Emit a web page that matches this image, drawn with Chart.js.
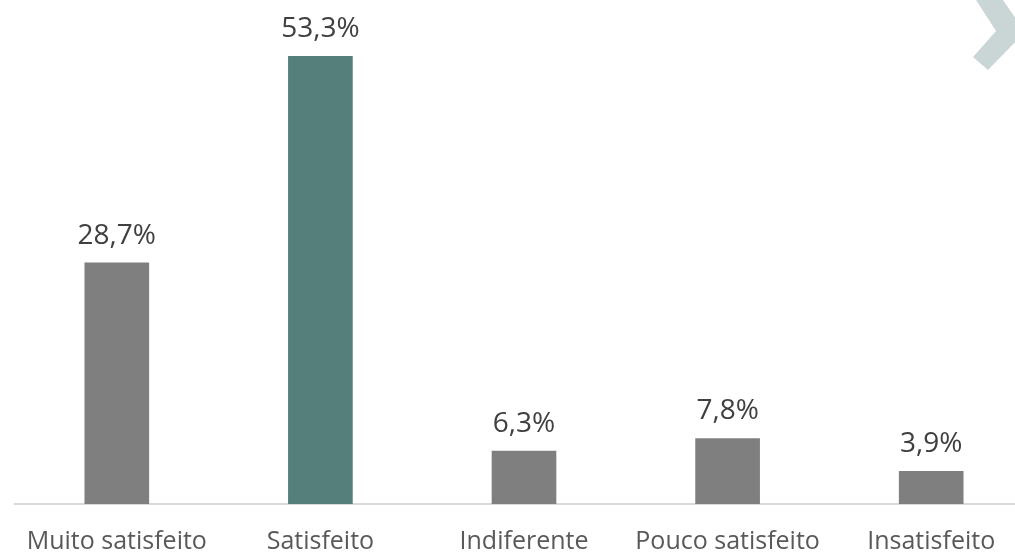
<!DOCTYPE html>
<html>
<head>
<meta charset="utf-8">
<script src="https://cdn.jsdelivr.net/npm/chart.js@4"></script>
<style>
  html, body { margin: 0; padding: 0; background: #fff; overflow: hidden; }
  #wrap { position: relative; width: 1035px; height: 555px; }
</style>
</head>
<body>
<div id="wrap"><canvas id="myChart"></canvas></div>
<script>
var categories = ['Muito satisfeito', 'Satisfeito', 'Indiferente', 'Pouco satisfeito', 'Insatisfeito'];
var values = [28.7, 53.3, 6.3, 7.8, 3.9];
var barColors = ['#7f7f7f', '#547f7b', '#7f7f7f', '#7f7f7f', '#7f7f7f'];

var FONT = "'Open Sans', 'Noto Sans', sans-serif";

// draws the value text above each bar
var valueLabels = {
    id: 'valueLabels',
    afterDatasetsDraw: function(chart) {
        var ctx = chart.ctx;
        var meta = chart.getDatasetMeta(0);
        ctx.save();
        ctx.font = '28px ' + FONT;
        ctx.fillStyle = '#404040';
        ctx.textAlign = 'center';
        ctx.textBaseline = 'alphabetic';
        meta.data.forEach(function(bar, i) {
            var txt = values[i].toFixed(1).replace('.', ',') + '%';
            ctx.fillText(txt, bar.x, bar.y - 19);
        });
        ctx.restore();
    }
};

// decorative chevron in the corner
var chevron = {
    id: 'chevron',
    afterDraw: function(chart) {
        var ctx = chart.ctx;
        ctx.save();
        ctx.fillStyle = '#c9d6d5';
        ctx.beginPath();
        ctx.moveTo(976, 0);
        ctx.lineTo(1003, 0);
        ctx.lineTo(1025, 32);
        ctx.lineTo(988, 70);
        ctx.lineTo(973, 57);
        ctx.lineTo(996, 31);
        ctx.closePath();
        ctx.fill();
        ctx.restore();
    }
};

var ctx = document.getElementById('myChart').getContext('2d');
var myChart = new Chart(ctx, {
    type: 'bar',
    data: {
        labels: categories,
        datasets: [{
            data: values,
            backgroundColor: barColors,
            barThickness: 64
        }]
    },
    options: {
        responsive: true,
        maintainAspectRatio: false,
        animation: false,
        layout: { padding: { left: 15, right: 2, top: 0, bottom: 0 } },
        plugins: {
            legend: { display: false },
            tooltip: { enabled: false }
        },
        scales: {
            x: {
                grid: { display: false, drawTicks: false },
                border: { display: true, color: '#d9d9d9', width: 2 },
                ticks: {
                    color: '#595959',
                    font: { family: FONT, size: 25 },
                    padding: 23
                },
                afterFit: function(scale) {
                    scale.height = 51;
                }
            },
            y: {
                display: false,
                min: 0,
                max: 60
            }
        }
    },
    plugins: [valueLabels, chevron]
});
</script>
</body>
</html>
